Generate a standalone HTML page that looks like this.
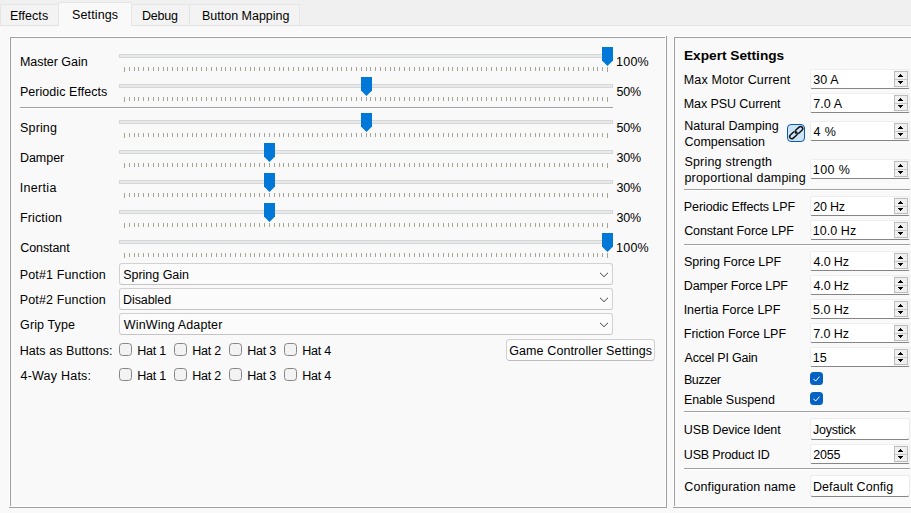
<!DOCTYPE html>
<html><head><meta charset="utf-8"><title>Settings</title>
<style>
html,body{margin:0;padding:0;}
html{width:911px;height:513px;overflow:hidden;}
body{width:911px;height:513px;overflow:hidden;background:#f0f0f0;position:relative;font-family:"Liberation Sans",sans-serif;font-size:12.5px;color:#000;}
div{box-sizing:border-box;}
.abs,.t,.groove,.handle,.combo,.cb,.cbc,.spin,.sep,.tab,.btn,.edit,.ln,.ticks,.tk{position:absolute;}
.t{white-space:nowrap;line-height:16px;height:16px;}
.pane{position:absolute;left:0;top:25px;width:911px;height:488px;background:#f9f9f9;border-top:1px solid #e2e2e2;}
.tab{top:4px;height:21px;background:#f3f3f3;border:1px solid #e5e5e5;border-bottom:none;}
.tab.sel{top:2px;height:24px;background:#f9f9f9;border-bottom:none;}
.d{background:#a0a0a0;}
.w{background:#ffffff;}
.groove{height:4px;background:#e7eaea;border:1px solid #d6d6d6;}
.ticks{height:4px;background-image:repeating-linear-gradient(to right,#a5a594 0,#a5a594 1px,transparent 1px,transparent 4.83px);}
.tk{width:1px;height:5px;background:#a5a594;}
.handle{width:11px;height:19px;background:#0078d7;clip-path:polygon(0 0,100% 0,100% 13.5px,50% 19px,0 13.5px);}
.combo{height:22px;border:1px solid #d1d1d1;border-bottom-color:#c4c4c4;border-radius:3px;background:#fbfbfb;}
.cb{width:13px;height:13px;border:1px solid #858585;border-radius:3.5px;background:#f3f3f3;}
.cbc{width:13px;height:13px;border-radius:3.5px;background:#0561c2;}
.spin{height:20px;background:linear-gradient(to right,#fff 0,#fff 83px,#f5f5f5 83px);border:1px solid #eeeeee;border-bottom:1px solid #868686;border-radius:2px;}
.edit{height:22px;background:#fff;border:1px solid #ececec;border-bottom:1px solid #868686;border-radius:3px;}
.sb{position:absolute;left:83px;top:1px;width:14px;height:16px;border:1px solid #bdbdbd;background:#efefef;}
.sb:before{content:"";position:absolute;left:0;top:7px;width:12px;height:1px;background:#c8c8c8;}
.btn{border:1px solid #d0d0d0;border-bottom-color:#bdbdbd;border-radius:4px;background:#fdfdfd;}
</style></head><body>

<div class="pane"></div>
<svg width="0" height="0" style="position:absolute"><defs><path id="tk" d="M0.5 0V5M5.5 0V4M10.5 0V4M14.5 0V4M19.5 0V4M24.5 0V4M29.5 0V4M34.5 0V4M39.5 0V4M43.5 0V4M48.5 0V4M53.5 0V4M58.5 0V4M63.5 0V4M68.5 0V4M72.5 0V4M77.5 0V4M82.5 0V4M87.5 0V4M92.5 0V4M97.5 0V4M101.5 0V4M106.5 0V4M111.5 0V4M116.5 0V4M121.5 0V4M126.5 0V4M130.5 0V4M135.5 0V4M140.5 0V4M145.5 0V4M150.5 0V4M155.5 0V4M159.5 0V4M164.5 0V4M169.5 0V4M174.5 0V4M179.5 0V4M184.5 0V4M188.5 0V4M193.5 0V4M198.5 0V4M203.5 0V4M208.5 0V4M213.5 0V4M217.5 0V4M222.5 0V4M227.5 0V4M232.5 0V4M237.5 0V4M242.5 0V4M246.5 0V4M251.5 0V4M256.5 0V4M261.5 0V4M266.5 0V4M270.5 0V4M275.5 0V4M280.5 0V4M285.5 0V4M290.5 0V4M295.5 0V4M299.5 0V4M304.5 0V4M309.5 0V4M314.5 0V4M319.5 0V4M324.5 0V4M328.5 0V4M333.5 0V4M338.5 0V4M343.5 0V4M348.5 0V4M353.5 0V4M357.5 0V4M362.5 0V4M367.5 0V4M372.5 0V4M377.5 0V4M382.5 0V4M386.5 0V4M391.5 0V4M396.5 0V4M401.5 0V4M406.5 0V4M411.5 0V4M415.5 0V4M420.5 0V4M425.5 0V4M430.5 0V4M435.5 0V4M440.5 0V4M444.5 0V4M449.5 0V4M454.5 0V4M459.5 0V4M464.5 0V4M469.5 0V4M473.5 0V4M478.5 0V4M483.5 0V5" stroke="#a5a594" stroke-width="1" fill="none"/></defs></svg>
<div class="tab" style="left:0px;width:59px;"></div>
<div class="tab sel" style="left:58px;width:74px;"></div>
<div class="tab" style="left:131px;width:59px;"></div>
<div class="tab" style="left:189px;width:111px;"></div>
<div class="ln w" style="left:9px;top:36px;width:657px;height:1px;"></div>
<div class="ln w" style="left:9px;top:36px;width:1px;height:471px;"></div>
<div class="ln w" style="left:10px;top:506px;width:656px;height:1px;"></div>
<div class="ln w" style="left:665px;top:37px;width:1px;height:470px;"></div>
<div class="ln d" style="left:9px;top:507px;width:658px;height:1px;"></div>
<div class="ln d" style="left:666px;top:36px;width:1px;height:472px;"></div>
<div class="ln d" style="left:10px;top:37px;width:655px;height:1px;"></div>
<div class="ln d" style="left:10px;top:37px;width:1px;height:469px;"></div>
<div class="ln w" style="left:673px;top:36px;width:238px;height:1px;"></div>
<div class="ln w" style="left:673px;top:36px;width:1px;height:471px;"></div>
<div class="ln w" style="left:674px;top:506px;width:237px;height:1px;"></div>
<div class="ln d" style="left:673px;top:507px;width:238px;height:1px;"></div>
<div class="ln d" style="left:674px;top:37px;width:237px;height:1px;"></div>
<div class="ln d" style="left:674px;top:37px;width:1px;height:469px;"></div>
<div class="groove" style="left:119px;top:54px;width:494px;"></div>
<svg class="abs" style="left:124px;top:67px" width="484" height="5" viewBox="0 0 484 5" shape-rendering="crispEdges"><use href="#tk"/></svg>
<div class="handle" style="left:602.0px;top:47px;"></div>
<div class="groove" style="left:119px;top:84px;width:494px;"></div>
<svg class="abs" style="left:124px;top:97px" width="484" height="5" viewBox="0 0 484 5" shape-rendering="crispEdges"><use href="#tk"/></svg>
<div class="handle" style="left:361.0px;top:77px;"></div>
<div class="groove" style="left:119px;top:120px;width:494px;"></div>
<svg class="abs" style="left:124px;top:133px" width="484" height="5" viewBox="0 0 484 5" shape-rendering="crispEdges"><use href="#tk"/></svg>
<div class="handle" style="left:361.0px;top:113px;"></div>
<div class="groove" style="left:119px;top:150px;width:494px;"></div>
<svg class="abs" style="left:124px;top:163px" width="484" height="5" viewBox="0 0 484 5" shape-rendering="crispEdges"><use href="#tk"/></svg>
<div class="handle" style="left:264.0px;top:143px;"></div>
<div class="groove" style="left:119px;top:180px;width:494px;"></div>
<svg class="abs" style="left:124px;top:193px" width="484" height="5" viewBox="0 0 484 5" shape-rendering="crispEdges"><use href="#tk"/></svg>
<div class="handle" style="left:264.0px;top:173px;"></div>
<div class="groove" style="left:119px;top:210px;width:494px;"></div>
<svg class="abs" style="left:124px;top:223px" width="484" height="5" viewBox="0 0 484 5" shape-rendering="crispEdges"><use href="#tk"/></svg>
<div class="handle" style="left:264.0px;top:203px;"></div>
<div class="groove" style="left:119px;top:240px;width:494px;"></div>
<svg class="abs" style="left:124px;top:253px" width="484" height="5" viewBox="0 0 484 5" shape-rendering="crispEdges"><use href="#tk"/></svg>
<div class="handle" style="left:602.0px;top:233px;"></div>
<div class="ln d" style="left:20px;top:107px;width:593px;height:1px;"></div>
<div class="ln w" style="left:20px;top:108px;width:593px;height:1px;"></div>
<div class="combo" style="left:119px;top:263px;width:494px;"></div>
<svg class="abs" style="left:598px;top:271px" width="11" height="7" viewBox="0 0 11 7"><path d="M2 1.8 L6 5.7 L10 1.8" fill="none" stroke="#444" stroke-width="1"/></svg>
<div class="combo" style="left:119px;top:288px;width:494px;"></div>
<svg class="abs" style="left:598px;top:296px" width="11" height="7" viewBox="0 0 11 7"><path d="M2 1.8 L6 5.7 L10 1.8" fill="none" stroke="#444" stroke-width="1"/></svg>
<div class="combo" style="left:119px;top:313px;width:494px;"></div>
<svg class="abs" style="left:598px;top:321px" width="11" height="7" viewBox="0 0 11 7"><path d="M2 1.8 L6 5.7 L10 1.8" fill="none" stroke="#444" stroke-width="1"/></svg>
<div class="cb" style="left:119px;top:343px;"></div>
<div class="cb" style="left:174px;top:343px;"></div>
<div class="cb" style="left:229px;top:343px;"></div>
<div class="cb" style="left:284px;top:343px;"></div>
<div class="cb" style="left:119px;top:368px;"></div>
<div class="cb" style="left:174px;top:368px;"></div>
<div class="cb" style="left:229px;top:368px;"></div>
<div class="cb" style="left:284px;top:368px;"></div>
<div class="btn" style="left:506px;top:339px;width:149px;height:22px;"></div>
<div class="spin" style="left:810px;top:69px;width:100px;"><div class="sb"></div></div>
<svg class="abs" style="left:897px;top:74px" width="7" height="10" viewBox="0 0 7 10" shape-rendering="crispEdges"><path d="M3 0h1v1h-1z M2 1h3v1h-3z M1 2h5v1h-5z M1 7h5v1h-5z M2 8h3v1h-3z M3 9h1v1h-1z" fill="#000"/></svg>
<div class="spin" style="left:810px;top:93px;width:100px;"><div class="sb"></div></div>
<svg class="abs" style="left:897px;top:98px" width="7" height="10" viewBox="0 0 7 10" shape-rendering="crispEdges"><path d="M3 0h1v1h-1z M2 1h3v1h-3z M1 2h5v1h-5z M1 7h5v1h-5z M2 8h3v1h-3z M3 9h1v1h-1z" fill="#000"/></svg>
<div class="spin" style="left:810px;top:121px;width:100px;"><div class="sb"></div></div>
<svg class="abs" style="left:897px;top:126px" width="7" height="10" viewBox="0 0 7 10" shape-rendering="crispEdges"><path d="M3 0h1v1h-1z M2 1h3v1h-3z M1 2h5v1h-5z M1 7h5v1h-5z M2 8h3v1h-3z M3 9h1v1h-1z" fill="#000"/></svg>
<div class="spin" style="left:810px;top:159px;width:100px;"><div class="sb"></div></div>
<svg class="abs" style="left:897px;top:164px" width="7" height="10" viewBox="0 0 7 10" shape-rendering="crispEdges"><path d="M3 0h1v1h-1z M2 1h3v1h-3z M1 2h5v1h-5z M1 7h5v1h-5z M2 8h3v1h-3z M3 9h1v1h-1z" fill="#000"/></svg>
<div class="spin" style="left:810px;top:196px;width:100px;"><div class="sb"></div></div>
<svg class="abs" style="left:897px;top:201px" width="7" height="10" viewBox="0 0 7 10" shape-rendering="crispEdges"><path d="M3 0h1v1h-1z M2 1h3v1h-3z M1 2h5v1h-5z M1 7h5v1h-5z M2 8h3v1h-3z M3 9h1v1h-1z" fill="#000"/></svg>
<div class="spin" style="left:810px;top:220px;width:100px;"><div class="sb"></div></div>
<svg class="abs" style="left:897px;top:225px" width="7" height="10" viewBox="0 0 7 10" shape-rendering="crispEdges"><path d="M3 0h1v1h-1z M2 1h3v1h-3z M1 2h5v1h-5z M1 7h5v1h-5z M2 8h3v1h-3z M3 9h1v1h-1z" fill="#000"/></svg>
<div class="spin" style="left:810px;top:251px;width:100px;"><div class="sb"></div></div>
<svg class="abs" style="left:897px;top:256px" width="7" height="10" viewBox="0 0 7 10" shape-rendering="crispEdges"><path d="M3 0h1v1h-1z M2 1h3v1h-3z M1 2h5v1h-5z M1 7h5v1h-5z M2 8h3v1h-3z M3 9h1v1h-1z" fill="#000"/></svg>
<div class="spin" style="left:810px;top:275px;width:100px;"><div class="sb"></div></div>
<svg class="abs" style="left:897px;top:280px" width="7" height="10" viewBox="0 0 7 10" shape-rendering="crispEdges"><path d="M3 0h1v1h-1z M2 1h3v1h-3z M1 2h5v1h-5z M1 7h5v1h-5z M2 8h3v1h-3z M3 9h1v1h-1z" fill="#000"/></svg>
<div class="spin" style="left:810px;top:299px;width:100px;"><div class="sb"></div></div>
<svg class="abs" style="left:897px;top:304px" width="7" height="10" viewBox="0 0 7 10" shape-rendering="crispEdges"><path d="M3 0h1v1h-1z M2 1h3v1h-3z M1 2h5v1h-5z M1 7h5v1h-5z M2 8h3v1h-3z M3 9h1v1h-1z" fill="#000"/></svg>
<div class="spin" style="left:810px;top:323px;width:100px;"><div class="sb"></div></div>
<svg class="abs" style="left:897px;top:328px" width="7" height="10" viewBox="0 0 7 10" shape-rendering="crispEdges"><path d="M3 0h1v1h-1z M2 1h3v1h-3z M1 2h5v1h-5z M1 7h5v1h-5z M2 8h3v1h-3z M3 9h1v1h-1z" fill="#000"/></svg>
<div class="spin" style="left:810px;top:347px;width:100px;"><div class="sb"></div></div>
<svg class="abs" style="left:897px;top:352px" width="7" height="10" viewBox="0 0 7 10" shape-rendering="crispEdges"><path d="M3 0h1v1h-1z M2 1h3v1h-3z M1 2h5v1h-5z M1 7h5v1h-5z M2 8h3v1h-3z M3 9h1v1h-1z" fill="#000"/></svg>
<div class="abs" style="left:787px;top:124px;width:18px;height:18px;border:1px solid #0a5ca8;border-radius:4px;background:#cce4f7;"></div>
<svg class="abs" style="left:787px;top:124px" width="18" height="18" viewBox="0 0 18 18"><g fill="none" stroke="#111" stroke-width="1.45" transform="translate(9.2 8.6) rotate(-42)"><path d="M-0.497 0.797 A2.15 2.15 0 0 1 1.5 -2.15 L5.85 -2.15 A2.15 2.15 0 0 1 5.85 2.15 L1.5 2.15 A2.15 2.15 0 0 1 0.756 2.017"/><path d="M0.497 -0.797 A2.15 2.15 0 0 1 -1.5 2.15 L-5.85 2.15 A2.15 2.15 0 0 1 -5.85 -2.15 L-1.5 -2.15 A2.15 2.15 0 0 1 -0.756 -2.017"/></g></svg>
<div class="ln d" style="left:684px;top:189px;width:226px;height:1px;"></div>
<div class="ln w" style="left:684px;top:190px;width:226px;height:1px;"></div>
<div class="ln d" style="left:684px;top:244px;width:226px;height:1px;"></div>
<div class="ln w" style="left:684px;top:245px;width:226px;height:1px;"></div>
<div class="ln d" style="left:684px;top:411px;width:226px;height:1px;"></div>
<div class="ln w" style="left:684px;top:412px;width:226px;height:1px;"></div>
<div class="ln d" style="left:684px;top:468px;width:226px;height:1px;"></div>
<div class="ln w" style="left:684px;top:469px;width:226px;height:1px;"></div>
<div class="cbc" style="left:810px;top:372px;"></div>
<svg class="abs" style="left:810px;top:372px" width="13" height="13" viewBox="0 0 13 13"><path d="M3.4 7.1 L5.85 8.9 L9.5 4.6" fill="none" stroke="#fff" stroke-width="1"/></svg>
<div class="cbc" style="left:810px;top:392px;"></div>
<svg class="abs" style="left:810px;top:392px" width="13" height="13" viewBox="0 0 13 13"><path d="M3.4 7.1 L5.85 8.9 L9.5 4.6" fill="none" stroke="#fff" stroke-width="1"/></svg>
<div class="edit" style="left:810px;top:418px;width:100px;"></div>
<div class="spin" style="left:810px;top:444px;width:100px;"><div class="sb"></div></div>
<svg class="abs" style="left:897px;top:449px" width="7" height="10" viewBox="0 0 7 10" shape-rendering="crispEdges"><path d="M3 0h1v1h-1z M2 1h3v1h-3z M1 2h5v1h-5z M1 7h5v1h-5z M2 8h3v1h-3z M3 9h1v1h-1z" fill="#000"/></svg>
<div class="edit" style="left:810px;top:475px;width:100px;"></div>
<div class="t" style="left:9.89px;top:8.00px;letter-spacing:0.047px;">Effects</div>
<div class="t" style="left:72.00px;top:7.00px;letter-spacing:0.134px;">Settings</div>
<div class="t" style="left:141.99px;top:8.00px;letter-spacing:-0.200px;">Debug</div>
<div class="t" style="left:201.99px;top:8.00px;letter-spacing:-0.006px;">Button Mapping</div>
<div class="t" style="left:19.89px;top:54.00px;letter-spacing:-0.025px;">Master Gain</div>
<div class="t" style="left:616.10px;top:54.00px;letter-spacing:0.198px;">100%</div>
<div class="t" style="left:19.89px;top:84.00px;letter-spacing:0.055px;">Periodic Effects</div>
<div class="t" style="left:616.40px;top:84.00px;letter-spacing:-0.107px;">50%</div>
<div class="t" style="left:20.10px;top:120.00px;letter-spacing:0.136px;">Spring</div>
<div class="t" style="left:616.40px;top:120.00px;letter-spacing:-0.107px;">50%</div>
<div class="t" style="left:19.89px;top:150.00px;letter-spacing:-0.014px;">Damper</div>
<div class="t" style="left:616.43px;top:150.00px;letter-spacing:-0.126px;">30%</div>
<div class="t" style="left:19.74px;top:180.00px;letter-spacing:0.314px;">Inertia</div>
<div class="t" style="left:616.43px;top:180.00px;letter-spacing:-0.126px;">30%</div>
<div class="t" style="left:19.89px;top:210.00px;letter-spacing:0.155px;">Friction</div>
<div class="t" style="left:616.43px;top:210.00px;letter-spacing:-0.126px;">30%</div>
<div class="t" style="left:20.27px;top:240.00px;letter-spacing:-0.097px;">Constant</div>
<div class="t" style="left:616.10px;top:240.00px;letter-spacing:0.198px;">100%</div>
<div class="t" style="left:19.69px;top:267.00px;letter-spacing:0.150px;">Pot#1 Function</div>
<div class="t" style="left:123.20px;top:267.00px;letter-spacing:-0.022px;">Spring Gain</div>
<div class="t" style="left:19.69px;top:292.00px;letter-spacing:0.150px;">Pot#2 Function</div>
<div class="t" style="left:122.99px;top:292.00px;letter-spacing:-0.068px;">Disabled</div>
<div class="t" style="left:20.10px;top:317.00px;letter-spacing:0.110px;">Grip Type</div>
<div class="t" style="left:123.83px;top:317.00px;letter-spacing:0.140px;">WinWing Adapter</div>
<div class="t" style="left:19.69px;top:343.00px;letter-spacing:0.071px;">Hats as Buttons:</div>
<div class="t" style="left:137.19px;top:343.00px;letter-spacing:-0.200px;">Hat 1</div>
<div class="t" style="left:192.19px;top:343.00px;letter-spacing:-0.200px;">Hat 2</div>
<div class="t" style="left:247.19px;top:343.00px;letter-spacing:-0.200px;">Hat 3</div>
<div class="t" style="left:302.19px;top:343.00px;letter-spacing:-0.200px;">Hat 4</div>
<div class="t" style="left:20.47px;top:368.00px;letter-spacing:0.228px;">4-Way Hats:</div>
<div class="t" style="left:137.19px;top:368.00px;letter-spacing:-0.200px;">Hat 1</div>
<div class="t" style="left:192.19px;top:368.00px;letter-spacing:-0.200px;">Hat 2</div>
<div class="t" style="left:247.19px;top:368.00px;letter-spacing:-0.200px;">Hat 3</div>
<div class="t" style="left:302.19px;top:368.00px;letter-spacing:-0.200px;">Hat 4</div>
<div class="t" style="left:509.20px;top:343.00px;letter-spacing:0.110px;">Game Controller Settings</div>
<div class="t" style="left:683.81px;top:48.00px;font-weight:bold;transform-origin:0 50%;transform:scaleX(1.0926);">Expert Settings</div>
<div class="t" style="left:683.79px;top:72.00px;letter-spacing:0.141px;">Max Motor Current</div>
<div class="t" style="left:813.13px;top:72.00px;letter-spacing:0.144px;">30 A</div>
<div class="t" style="left:683.79px;top:96.00px;letter-spacing:-0.085px;">Max PSU Current</div>
<div class="t" style="left:813.20px;top:96.00px;letter-spacing:0.119px;">7.0 A</div>
<div class="t" style="left:813.57px;top:124.00px;letter-spacing:0.319px;">4 %</div>
<div class="t" style="left:812.80px;top:162.00px;letter-spacing:0.400px;">100 %</div>
<div class="t" style="left:683.79px;top:199.00px;letter-spacing:-0.090px;">Periodic Effects LPF</div>
<div class="t" style="left:813.20px;top:199.00px;letter-spacing:-0.200px;">20 Hz</div>
<div class="t" style="left:684.17px;top:223.00px;letter-spacing:-0.120px;">Constant Force LPF</div>
<div class="t" style="left:812.80px;top:223.00px;letter-spacing:0.045px;">10.0 Hz</div>
<div class="t" style="left:684.00px;top:254.00px;letter-spacing:-0.057px;">Spring Force LPF</div>
<div class="t" style="left:813.57px;top:254.00px;letter-spacing:-0.157px;">4.0 Hz</div>
<div class="t" style="left:683.79px;top:278.00px;letter-spacing:-0.139px;">Damper Force LPF</div>
<div class="t" style="left:813.57px;top:278.00px;letter-spacing:-0.157px;">4.0 Hz</div>
<div class="t" style="left:683.64px;top:302.00px;letter-spacing:0.008px;">Inertia Force LPF</div>
<div class="t" style="left:813.10px;top:302.00px;letter-spacing:-0.062px;">5.0 Hz</div>
<div class="t" style="left:683.79px;top:326.00px;letter-spacing:-0.032px;">Friction Force LPF</div>
<div class="t" style="left:813.20px;top:326.00px;letter-spacing:-0.084px;">7.0 Hz</div>
<div class="t" style="left:684.59px;top:350.00px;letter-spacing:-0.210px;">Accel PI Gain</div>
<div class="t" style="left:812.80px;top:350.00px;letter-spacing:-0.021px;">15</div>
<div class="t" style="left:684.19px;top:118.00px;letter-spacing:0.059px;">Natural Damping</div>
<div class="t" style="left:684.57px;top:134.00px;letter-spacing:-0.028px;">Compensation</div>
<div class="t" style="left:684.40px;top:154.00px;letter-spacing:0.205px;">Spring strength</div>
<div class="t" style="left:684.44px;top:170.00px;letter-spacing:0.198px;">proportional damping</div>
<div class="t" style="left:683.89px;top:372.00px;letter-spacing:-0.365px;">Buzzer</div>
<div class="t" style="left:683.89px;top:392.00px;letter-spacing:-0.060px;">Enable Suspend</div>
<div class="t" style="left:683.86px;top:422.00px;letter-spacing:-0.124px;">USB Device Ident</div>
<div class="t" style="left:812.89px;top:422.00px;letter-spacing:-0.208px;">Joystick</div>
<div class="t" style="left:683.86px;top:447.00px;letter-spacing:-0.181px;">USB Product ID</div>
<div class="t" style="left:813.20px;top:447.00px;letter-spacing:-0.200px;">2055</div>
<div class="t" style="left:684.27px;top:479.00px;letter-spacing:0.132px;">Configuration name</div>
<div class="t" style="left:812.99px;top:479.00px;letter-spacing:0.068px;">Default Config</div>
</body></html>
